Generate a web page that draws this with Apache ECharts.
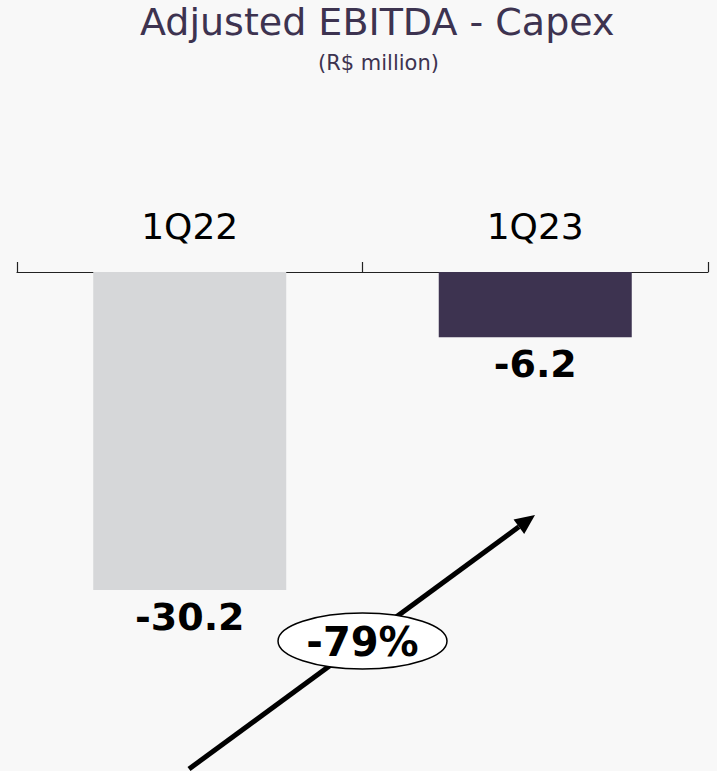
<!DOCTYPE html>
<html>
<head>
<meta charset="utf-8">
<script src="https://cdn.jsdelivr.net/npm/echarts@6/dist/echarts.min.js"></script>
<style>
html,body{margin:0;padding:0;background:#f8f8f8;}
#c{width:717px;height:771px;}
</style>
</head>
<body>
<div id="c"></div>
<script>
const categories = ['1Q22', '1Q23'];
const values = [-30.2, -6.2];
const barColors = ['#d6d7d9', '#3d3350'];
const titleText = 'Adjusted EBITDA - Capex';
const subtitleText = '(R$ million)';
const changeText = '-79%';

const FONT = 'DejaVu Sans';
const chart = echarts.init(document.getElementById('c'), null, {renderer: 'svg'});

const tip = [535, 515], start = [189, 769];
const dx = tip[0] - start[0], dy = tip[1] - start[1];
const L = Math.sqrt(dx * dx + dy * dy);
const ux = dx / L, uy = dy / L;
const hl = 20, hw = 9;
const bx = tip[0] - hl * ux, by = tip[1] - hl * uy;
const px = -uy, py = ux;

chart.setOption({
  backgroundColor: '#f8f8f8',
  animation: false,
  title: [
    {text: titleText, left: 140, top: 3, padding: 0,
     textStyle: {fontFamily: FONT, fontSize: 38, fontWeight: 'normal', color: '#3d3350'}},
    {text: subtitleText, left: 318, top: 52, padding: 0,
     textStyle: {fontFamily: FONT, fontSize: 21, fontWeight: 'normal', color: '#3d3350'}}
  ],
  grid: {left: 17, right: 9, top: 272, bottom: 25, containLabel: false},
  xAxis: {
    type: 'category', position: 'top', data: categories, boundaryGap: true,
    axisLine: {show: true, lineStyle: {color: '#222', width: 1.2}},
    axisTick: {show: true, alignWithLabel: false, length: 10, lineStyle: {color: '#222', width: 1.2}},
    axisLabel: {fontFamily: FONT, fontSize: 36, color: '#000', margin: 28}
  },
  yAxis: {type: 'value', min: -45, max: 0, show: false, splitLine: {show: false}},
  series: [{
    type: 'bar', barWidth: 193,
    data: values.map((v, i) => ({value: v, itemStyle: {color: barColors[i]}})),
    label: {show: true, position: 'bottom', distance: 8, fontFamily: FONT, fontSize: 38,
            fontWeight: 'bold', color: '#000', formatter: p => p.value.toFixed(1)}
  }],
  graphic: [
    {type: 'line', shape: {x1: start[0], y1: start[1], x2: bx, y2: by},
     style: {stroke: '#000', lineWidth: 5}, z: 10},
    {type: 'polygon', shape: {points: [[tip[0], tip[1]], [bx + hw * px, by + hw * py], [bx - hw * px, by - hw * py]]},
     style: {fill: '#000'}, z: 10},
    {type: 'ellipse', shape: {cx: 362.5, cy: 641, rx: 84.5, ry: 28},
     style: {fill: '#fff', stroke: '#000', lineWidth: 1.5}, z: 11},
    {type: 'text', x: 362.5, y: 642, z: 12,
     style: {text: changeText, fontFamily: FONT, fontSize: 40, fontWeight: 'bold', fill: '#000',
             textAlign: 'center', textVerticalAlign: 'middle'}}
  ]
});
</script>
</body>
</html>
